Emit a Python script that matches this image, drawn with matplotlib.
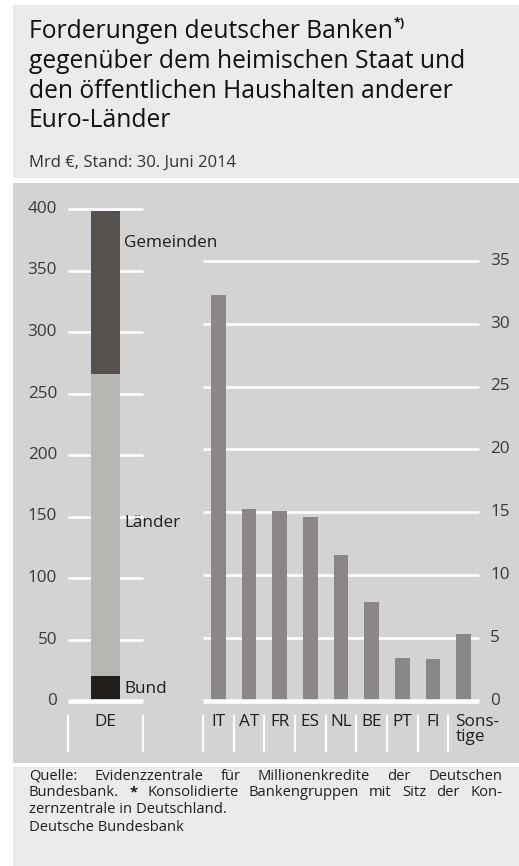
import matplotlib
matplotlib.use("Agg")
import matplotlib.pyplot as plt
from matplotlib.patches import Rectangle
import matplotlib.transforms as mtransforms

plt.rcParams['font.family'] = ['Open Sans', 'DejaVu Sans']

# ---------------- data ----------------
de_segments = ["Bund", "Länder", "Gemeinden"]
de_values = [20, 246, 132]
de_colors = ["#221e1c", "#b6b6b2", "#56514d"]
left_ticks = [0, 50, 100, 150, 200, 250, 300, 350, 400]

countries = ["IT", "AT", "FR", "ES", "NL", "BE", "PT", "FI", "Sons-\ntige"]
country_values = [32.3, 15.3, 15.1, 14.6, 11.6, 7.9, 3.4, 3.3, 5.3]
right_ticks = [0, 5, 10, 15, 20, 25, 30, 35]

title_lines = ["Forderungen deutscher Banken",
               "gegenüber dem heimischen Staat und",
               "den öffentlichen Haushalten anderer",
               "Euro-Länder"]
subtitle = "Mrd €, Stand: 30. Juni 2014"
footer_justified = ["Quelle: Evidenzzentrale für Millionenkredite der Deutschen",
                    "Bundesbank. * Konsolidierte Bankengruppen mit Sitz der Kon-"]
footer_plain = ["zernzentrale in Deutschland.", "Deutsche Bundesbank"]

# ---------------- figure ----------------
W, H = 519, 866
fig = plt.figure(figsize=(W / 100, H / 100), dpi=100)
fig.patch.set_facecolor("white")


def fx(x):
    return x / W


def fy(y):
    return 1 - y / H


def panel(x0, y0, x1, y1, color):
    fig.patches.append(Rectangle((fx(x0), fy(y1)), fx(x1) - fx(x0), (y1 - y0) / H,
                                 transform=fig.transFigure, facecolor=color,
                                 edgecolor="none", zorder=-5))


panel(13, 5, 519, 177.5, "#ebebeb")
panel(13, 182.5, 519, 763, "#d3d3d3")
panel(13, 767, 519, 866, "#ebebeb")

TXT = "#1e1e1e"
TICK = "#3a3a3a"
WHITE = "white"
GRID_LW = 1.9
ZERO_LW = 3.3
AX_FS = 12.3

# ---------------- left axes (DE) ----------------
axL = fig.add_axes([fx(68), fy(701), fx(143) - fx(68), (701 - 209) / H])
axL.set_zorder(2)
axL.set_xlim(0, 1)
axL.set_ylim(0, 400)
axL.axis("off")
for v in left_ticks[1:]:
    axL.plot([0, 1], [v, v], color=WHITE, lw=GRID_LW, zorder=1, clip_on=False,
             solid_capstyle="butt")
axL.plot([0, 1], [0, 0], color=WHITE, lw=ZERO_LW, zorder=3, clip_on=False,
         solid_capstyle="butt")
bottom = 0
bar_w = 29 / 75
for name, val, col in zip(de_segments, de_values, de_colors):
    axL.bar(0.5, val, width=bar_w, bottom=bottom, color=col, zorder=2)
    bottom += val
for v in left_ticks:
    axL.text(-11 / 75, v, str(v), ha="right", va="center", fontsize=AX_FS,
             color=TICK, clip_on=False)
# segment labels
lab_x = (124 - 68) / 75
axL.text(lab_x, 3.5, "Bund", ha="left", va="bottom", fontsize=AX_FS, color=TXT)
axL.text(lab_x, 145, "Länder", ha="left", va="center", fontsize=AX_FS, color=TXT)
axL.text(lab_x, 372, "Gemeinden", ha="left", va="center", fontsize=AX_FS, color=TXT)

bt = mtransforms.blended_transform_factory(axL.transData, fig.transFigure)
for xs in [0, 1]:
    axL.plot([xs, xs], [fy(716), fy(751)], color=WHITE, lw=1.6, transform=bt,
             clip_on=False)
axL.text(0.5, fy(722), "DE", ha="center", va="center", fontsize=AX_FS, color=TXT,
         transform=bt)

# ---------------- right axes (countries) ----------------
axR = fig.add_axes([fx(203), fy(701), fx(479) - fx(203), (701 - 260.7) / H])
axR.set_zorder(2)
axR.set_xlim(-0.5, len(countries) - 0.5)
axR.set_ylim(0, 35)
axR.axis("off")
for v in right_ticks[1:]:
    axR.plot([-0.5, len(countries) - 0.5], [v, v], color=WHITE, lw=GRID_LW,
             zorder=1, clip_on=False, solid_capstyle="butt")
axR.plot([-0.5, len(countries) - 0.5], [0, 0], color=WHITE, lw=ZERO_LW,
         zorder=3, clip_on=False, solid_capstyle="butt")
xs = list(range(len(countries)))
axR.bar(xs, country_values, width=14.8 / 30.6, color="#8a8786", zorder=2)
for v in right_ticks:
    axR.text(len(countries) - 0.5 + 11 / 30.6, v, str(v), ha="left", va="center",
             fontsize=AX_FS, color=TICK, clip_on=False)

btR = mtransforms.blended_transform_factory(axR.transData, fig.transFigure)
for i in xs:
    axR.plot([i - 0.5, i - 0.5], [fy(716), fy(751)], color=WHITE, lw=1.6,
             transform=btR, clip_on=False)
for i, lab in enumerate(countries):
    if "\n" in lab:
        axR.text(i - 0.5 + 7 / 30.6, fy(714), lab, ha="left", va="top",
                 fontsize=AX_FS, color=TXT, transform=btR, linespacing=0.95)
    else:
        axR.text(i, fy(722), lab, ha="center", va="center", fontsize=AX_FS,
                 color=TXT, transform=btR)

# ---------------- title ----------------
baselines = [38, 68, 97.5, 127]
title_fs = 17.7
tobjs = []
for line, b in zip(title_lines, baselines):
    t = fig.text(fx(29), fy(b), line, ha="left", va="baseline", fontsize=title_fs,
                 color="#111111")
    tobjs.append(t)
fig.canvas.draw()
r = fig.canvas.get_renderer()
bb = tobjs[0].get_window_extent(r)
fig.text(bb.x1 / W + fx(1), fy(27), "*)", ha="left", va="baseline", fontsize=9,
         color="#111111", fontweight="bold")
fig.text(fx(29), fy(167), subtitle, ha="left", va="baseline", fontsize=12,
         color="#333333")

# ---------------- footer ----------------
FS = 10.6
left, right = 29, 502
foot_base = [780, 796.5, 813, 831]
for line, b in zip(footer_justified, foot_base[:2]):
    words = line.split(" ")
    objs = [fig.text(0, fy(b), w, ha="left", va="baseline", fontsize=FS, color=TXT,
                     fontweight=("bold" if w == "*" else "normal"))
            for w in words]
    fig.canvas.draw()
    widths = [o.get_window_extent(r).width for o in objs]
    gap = (right - left - sum(widths)) / (len(words) - 1)
    x = left
    for o, w in zip(objs, widths):
        o.set_x(fx(x))
        x += w + gap
for line, b in zip(footer_plain, foot_base[2:]):
    fig.text(fx(left), fy(b), line, ha="left", va="baseline", fontsize=FS, color=TXT)

fig.savefig("out.png", dpi=100, facecolor=fig.get_facecolor())
